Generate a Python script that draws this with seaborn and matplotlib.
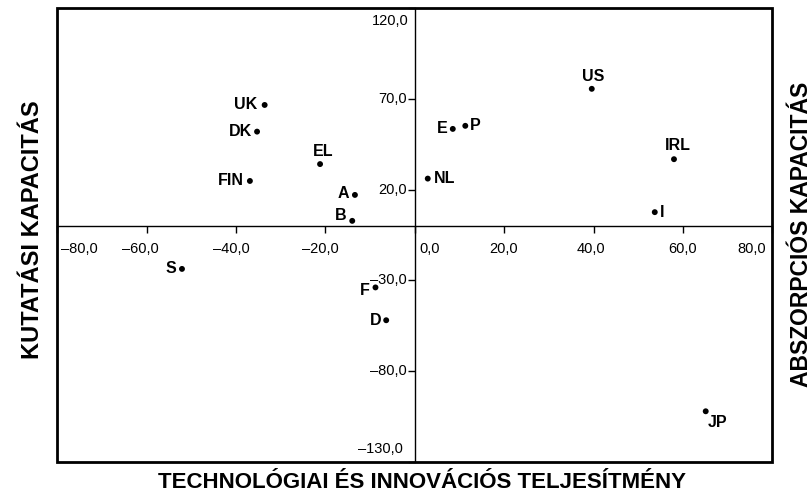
import matplotlib
matplotlib.use('Agg')
import matplotlib.pyplot as plt
import seaborn as sns
import pandas as pd
from matplotlib.patches import Rectangle

# =========================
# ADATOK
# =========================

countries = ['UK', 'DK', 'EL', 'FIN', 'A', 'B', 'NL', 'E', 'P', 'US', 'IRL', 'I', 'S', 'F', 'D', 'JP']
tech_perf = [-33.6, -35.3, -21.2, -36.9, -13.4, -14.0, 2.9, 8.5, 11.3, 39.6, 58.0, 53.7, -52.1, -8.8, -6.4, 65.1]
capacity = [66.7, 52.0, 34.1, 24.8, 17.1, 2.8, 26.1, 53.5, 55.2, 75.6, 36.8, 7.6, -23.7, -33.9, -52.0, -102.2]

xtick_vals = [-80, -60, -40, -20, 0, 20, 40, 60, 80]
xtick_labels = ['–80,0', '–60,0', '–40,0', '–20,0', '0,0', '20,0', '40,0', '60,0', '80,0']
ytick_vals = [-130, -80, -30, 20, 70, 120]
ytick_labels = ['–130,0', '–80,0', '–30,0', '20,0', '70,0', '120,0']

df = pd.DataFrame({'country': countries, 'x': tech_perf, 'y': capacity})

# címke elhelyezés (ha, dx, dy) pixelben
label_pos = {
    'UK': ('right', -7, 0), 'DK': ('right', -5, 0), 'EL': ('center', 3, 13),
    'FIN': ('right', -6, 0), 'A': ('right', -6, 1), 'B': ('right', -6, 5),
    'NL': ('left', 6, 0), 'E': ('right', -5, 0), 'P': ('left', 5, 0),
    'US': ('center', 1, 12), 'IRL': ('center', 4, 14), 'I': ('left', 5, 0),
    'S': ('right', -6, 0), 'F': ('right', -6, -3), 'D': ('right', -5, 0),
    'JP': ('left', 2, -11),
}
# tengelyfeliratok igazítása (ha, dx, dy) pixelben
xlab_pos = [('left', 4, -23), ('center', -6, -23), ('center', -5, -23), ('center', -5, -23),
            ('left', 5, -23), ('center', -1, -23), ('center', -3, -23), ('center', 0, -23),
            ('right', -6, -23)]
ylab_pos = [('right', -12, 13), ('right', -8, 0), ('right', -8, 0), ('right', -8, 0),
            ('right', -8, 0), ('right', -6, -13)]

# =========================
# WYKRES
# =========================

sns.set_style('white')
plt.rcParams['font.family'] = ['Liberation Sans', 'DejaVu Sans']
plt.rcParams['text.color'] = 'black'

fig = plt.figure(figsize=(8.11, 4.96), dpi=100)
ax = fig.add_axes([57.3 / 811, 34.3 / 496, 715 / 811, 453.4 / 496])

sns.scatterplot(data=df, x='x', y='y', color='black', s=18, edgecolor='none', ax=ax, zorder=5)

for c, xv, yv in zip(countries, tech_perf, capacity):
    ha, dx, dy = label_pos[c]
    ax.annotate(c, (xv, yv), xytext=(dx, dy), textcoords='offset pixels',
                ha=ha, va='center', fontsize=11.5, fontweight='bold', color='black')

ax.set_xlim(-80, 80)
ax.set_ylim(-130, 120)
ax.set_xlabel('')
ax.set_ylabel('')

for s in ['top', 'right']:
    ax.spines[s].set_visible(False)
ax.spines['left'].set_position(('data', 0))
ax.spines['bottom'].set_position(('data', 0))
for s in ['left', 'bottom']:
    ax.spines[s].set_linewidth(1.0)
    ax.spines[s].set_color('black')

ax.set_xticks(xtick_vals)
ax.set_yticks(ytick_vals)
ax.tick_params(axis='both', direction='out', length=5, width=1, color='black',
               labelbottom=False, labelleft=False, bottom=True, left=True)

for v, lab, (ha, dx, dy) in zip(xtick_vals, xtick_labels, xlab_pos):
    ax.annotate(lab, (v, 0), xytext=(dx, dy), textcoords='offset pixels',
                ha=ha, va='center', fontsize=10.5, color='black', annotation_clip=False)
for v, lab, (ha, dx, dy) in zip(ytick_vals, ytick_labels, ylab_pos):
    ax.annotate(lab, (0, v), xytext=(dx, dy), textcoords='offset pixels',
                ha=ha, va='center', fontsize=10.5, color='black', annotation_clip=False)

ax.add_patch(Rectangle((0, 0), 1, 1, transform=ax.transAxes, fill=False,
                       lw=2.0, edgecolor='black', clip_on=False, zorder=10))

fig.text(33 / 811, 1 - 230 / 496, 'KUTATÁSI KAPACITÁS', rotation=90,
         ha='center', va='center', fontsize=17, fontweight='bold', color='black')
fig.text(801 / 811, 1 - 234 / 496, 'ABSZORPCIÓS KAPACITÁS', rotation=90,
         ha='center', va='center', fontsize=16.5, fontweight='bold', color='black')
fig.text(422 / 811, 1 - 483 / 496, 'TECHNOLÓGIAI ÉS INNOVÁCIÓS TELJESÍTMÉNY',
         ha='center', va='center', fontsize=16, fontweight='bold', color='black')

fig.savefig('out.png', dpi=100)
